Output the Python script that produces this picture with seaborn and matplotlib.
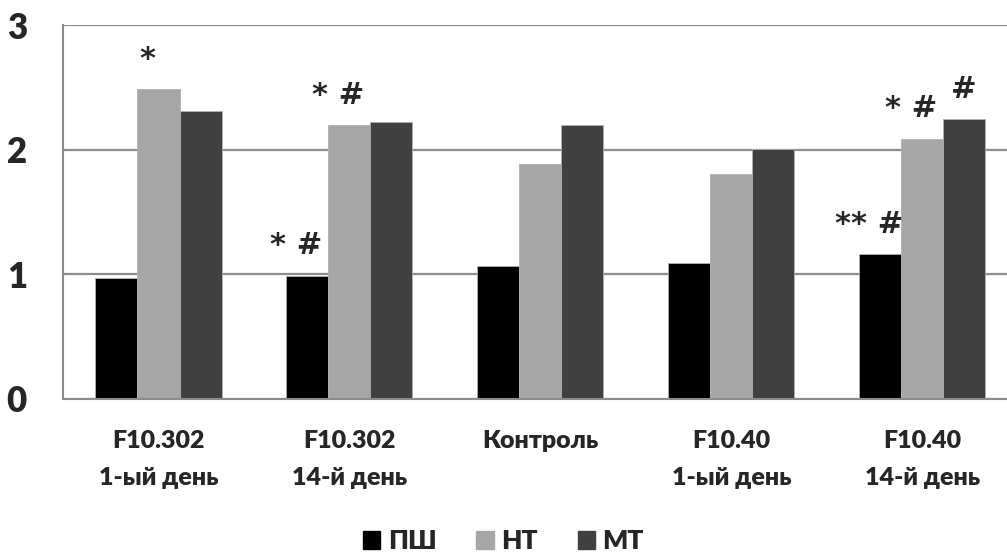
import pandas as pd
import matplotlib
matplotlib.use("Agg")
import matplotlib.pyplot as plt
import seaborn as sns

# Chart values
groups = ["F10.302\n1-ый день", "F10.302\n14-й день", "Контроль", "F10.40\n1-ый день", "F10.40\n14-й день"]
series = ["ПШ", "НТ", "МТ"]
pw = [0.97, 0.99, 1.07, 1.09, 1.16]
nt = [2.49, 2.20, 1.89, 1.81, 2.09]
mt = [2.31, 2.22, 2.20, 2.01, 2.25]
yticks = [0, 1, 2, 3]

# significance marks: (group index, series index, label)
marks = [(0, 1, "*"), (1, 0, "* #"), (1, 1, "* #"),
         (4, 0, "** #"), (4, 1, "* #"), (4, 2, "#")]

colors = ["#000000", "#a6a6a6", "#404040"]

df = pd.DataFrame({"group": groups * 3,
                   "series": [s for s in series for _ in groups],
                   "value": pw + nt + mt})

sns.set_style("white")
plt.rcParams["font.family"] = ["Lato", "DejaVu Sans"]
plt.rcParams["font.weight"] = "heavy"

fig = plt.figure(figsize=(10.07, 5.58), dpi=100)
ax = fig.add_axes([0.0626, 0.285, 0.948, 0.6697])

sns.barplot(data=df, x="group", y="value", hue="series", palette=colors,
            width=0.66, edgecolor="#b0b0b0", linewidth=0.6, ax=ax, zorder=2)

ax.set_ylim(0, 3)
ax.set_xlim(-0.5, len(groups) - 0.5)
ax.set_yticks(yticks)
ax.set_yticklabels([str(t) for t in yticks], fontsize=25, fontweight="heavy")
ax.tick_params(axis="y", length=10, width=1.5, color="#8c8c8c", pad=16)
ax.grid(axis="y", color="#8c8c8c", linewidth=1.6, zorder=0)
ax.set_axisbelow(True)

ax.set_xticks(range(len(groups)))
ax.set_xticklabels(groups, fontsize=18, fontweight="heavy", linespacing=1.85)
ax.tick_params(axis="x", length=0, pad=22)
ax.set_xticks([i - 0.5 for i in range(len(groups) + 1)], minor=True)
ax.tick_params(axis="x", which="minor", length=9, width=1.3, color="#8c8c8c", direction="out")

ax.set_xlabel("")
ax.set_ylabel("")
for side in ["top", "right"]:
    ax.spines[side].set_visible(False)
for side in ["left", "bottom"]:
    ax.spines[side].set_color("#8c8c8c")
    ax.spines[side].set_linewidth(1.5)

# annotations above bars
vals = [pw, nt, mt]
bw = 0.66 / 3
for g, s, lab in marks:
    x = g - bw + s * bw
    if lab != "#":
        x -= 0.06
    ax.text(x, vals[s][g] + 0.17, lab, ha="center", va="baseline",
            fontsize=22, fontweight="bold", family=["DejaVu Sans"])

ax.legend_.remove()
handles = [plt.Rectangle((0, 0), 1, 1, color=c) for c in colors]
fig.legend(handles, series, loc="center", bbox_to_anchor=(0.5, 0.03), ncol=3,
           frameon=False, handlelength=0.65, handleheight=0.65,
           handletextpad=0.3, columnspacing=1.5, prop={"weight": "heavy", "size": 19})

fig.savefig("out.png", dpi=100)
